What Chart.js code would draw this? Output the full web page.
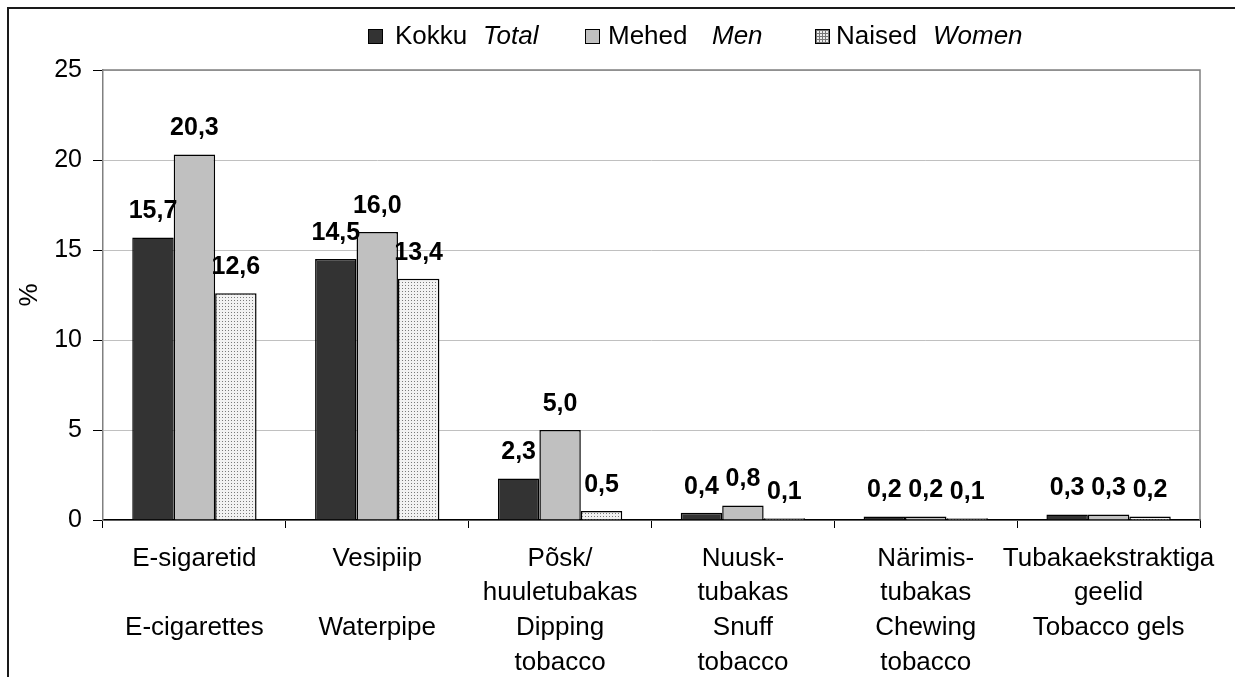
<!DOCTYPE html>
<html>
<head>
<meta charset="utf-8">
<script src="https://cdn.jsdelivr.net/npm/chart.js@4.4.1/dist/chart.umd.min.js"></script>
<style>
  html, body { margin: 0; padding: 0; background: #fff; }
  #wrap { position: relative; width: 1235px; height: 677px; overflow: hidden; font-family: "Liberation Sans", Arial, sans-serif; }
  #frame { position: absolute; left: 7px; top: 7px; width: 1300px; height: 700px; border-left: 2px solid #1a1a1a; border-top: 2px solid #1a1a1a; }
  #chart { position: absolute; left: 0; top: 0; }
  .box { position: absolute; top: 29px; width: 13px; height: 13px; border: 1px solid #000; }
  .txt { position: absolute; top: 20px; font-size: 26px; line-height: 30px; color: #000; white-space: nowrap; }
  .txt i { font-style: italic; }
</style>
</head>
<body>
<div id="wrap">
  <div id="frame"></div>
  <canvas id="chart" width="1235" height="677"></canvas>
  <div id="legend"></div>
</div>
<script>
const categories = [
  ['E-sigaretid', '', 'E-cigarettes'],
  ['Vesipiip', '', 'Waterpipe'],
  ['Põsk/', 'huuletubakas', 'Dipping', 'tobacco'],
  ['Nuusk-', 'tubakas', 'Snuff', 'tobacco'],
  ['Närimis-', 'tubakas', 'Chewing', 'tobacco'],
  ['Tubakaekstraktiga', 'geelid', 'Tobacco gels']
];
const total = [15.7, 14.5, 2.3, 0.4, 0.2, 0.3];
const men = [20.3, 16.0, 5.0, 0.8, 0.2, 0.3];
const women = [12.6, 13.4, 0.5, 0.1, 0.1, 0.2];
const seriesEt = ['Kokku', 'Mehed', 'Naised'];
const seriesEn = ['Total', 'Men', 'Women'];
const yTicks = [0, 5, 10, 15, 20, 25];

const FONT = '"Liberation Sans", Arial, sans-serif';

function dotPattern() {
  const c = document.createElement('canvas');
  c.width = 3; c.height = 3;
  const g = c.getContext('2d');
  g.fillStyle = '#f2f2f2'; g.fillRect(0, 0, 3, 3);
  g.fillStyle = '#7a7a7a';
  g.fillRect(0, 0, 1, 1);
  return g.createPattern(c, 'repeat');
}

// legend in html so the Estonian / English parts can mix styles
const legendLeft = [[368, 395, 483], [585, 608, 712], [815, 836, 933]];
const legendFill = ['#333333', '#c0c0c0', null];
const legendEl = document.getElementById('legend');
seriesEt.forEach((name, i) => {
  const [bx, tx, ex] = legendLeft[i];
  const box = document.createElement('div');
  box.className = 'box';
  box.style.left = bx + 'px';
  if (legendFill[i]) box.style.background = legendFill[i];
  else {
    box.style.backgroundColor = '#eee';
    box.style.backgroundImage = 'linear-gradient(#777 1px, transparent 1px), linear-gradient(90deg, #777 1px, transparent 1px)';
    box.style.backgroundSize = '3px 3px';
  }
  legendEl.appendChild(box);
  const t1 = document.createElement('div');
  t1.className = 'txt'; t1.style.left = tx + 'px'; t1.textContent = name;
  legendEl.appendChild(t1);
  const t2 = document.createElement('div');
  t2.className = 'txt'; t2.style.left = ex + 'px';
  t2.innerHTML = '<i>' + seriesEn[i] + '</i>';
  legendEl.appendChild(t2);
});

const valueLabels = {
  id: 'valueLabels',
  afterDatasetsDraw(chart) {
    const ctx = chart.ctx;
    ctx.save();
    ctx.font = 'bold 25px ' + FONT;
    ctx.fillStyle = '#000';
    ctx.textAlign = 'center';
    ctx.textBaseline = 'middle';
    chart.data.datasets.forEach((ds, di) => {
      chart.getDatasetMeta(di).data.forEach((bar, i) => {
        ctx.fillText(ds.data[i].toFixed(1).replace('.', ','), bar.x, bar.y - 26);
      });
    });
    ctx.restore();
  }
};

const plotFrame = {
  id: 'plotFrame',
  afterDraw(chart) {
    const { left, right, top, bottom } = chart.chartArea;
    const ctx = chart.ctx;
    ctx.save();
    ctx.strokeStyle = '#808080';
    ctx.lineWidth = 1.5;
    ctx.beginPath();
    ctx.moveTo(left, top);
    ctx.lineTo(right, top);
    ctx.lineTo(right, bottom);
    ctx.stroke();
    ctx.restore();
  }
};

new Chart(document.getElementById('chart'), {
  type: 'bar',
  data: {
    labels: categories,
    datasets: [
      { label: seriesEt[0], data: total, backgroundColor: '#333333', borderColor: '#000', borderWidth: 1.5 },
      { label: seriesEt[1], data: men, backgroundColor: '#c0c0c0', borderColor: '#000', borderWidth: 1.5 },
      { label: seriesEt[2], data: women, backgroundColor: dotPattern(), borderColor: '#000', borderWidth: 1.5 }
    ]
  },
  options: {
    responsive: false,
    animation: false,
    devicePixelRatio: 1,
    layout: { padding: { top: 70, right: 35, left: 0, bottom: 0 } },
    plugins: { legend: { display: false }, tooltip: { enabled: false } },
    datasets: { bar: { categoryPercentage: 0.68, barPercentage: 1.0 } },
    scales: {
      x: {
        grid: { drawOnChartArea: false, tickColor: '#000', tickLength: 8, offset: true },
        border: { color: '#000', width: 1.5 },
        ticks: {
          font: { family: FONT, size: 26, lineHeight: 1.335 },
          color: '#000', maxRotation: 0, minRotation: 0, autoSkip: false, padding: 13
        },
        afterFit(s) { s.height = 157; }
      },
      y: {
        min: 0, max: 25,
        afterBuildTicks(s) { s.ticks = yTicks.map(v => ({ value: v })); },
        ticks: { font: { family: FONT, size: 25 }, color: '#000', padding: 11 },
        grid: { color: '#c0c0c0', tickColor: '#000', tickLength: 10, lineWidth: 1 },
        border: { color: '#808080', width: 1.5 },
        title: { display: true, text: '%', font: { family: FONT, size: 26 }, color: '#000', padding: { top: 14, bottom: 0 } },
        afterFit(s) { s.width = 103; }
      }
    }
  },
  plugins: [valueLabels, plotFrame]
});
</script>
</body>
</html>
